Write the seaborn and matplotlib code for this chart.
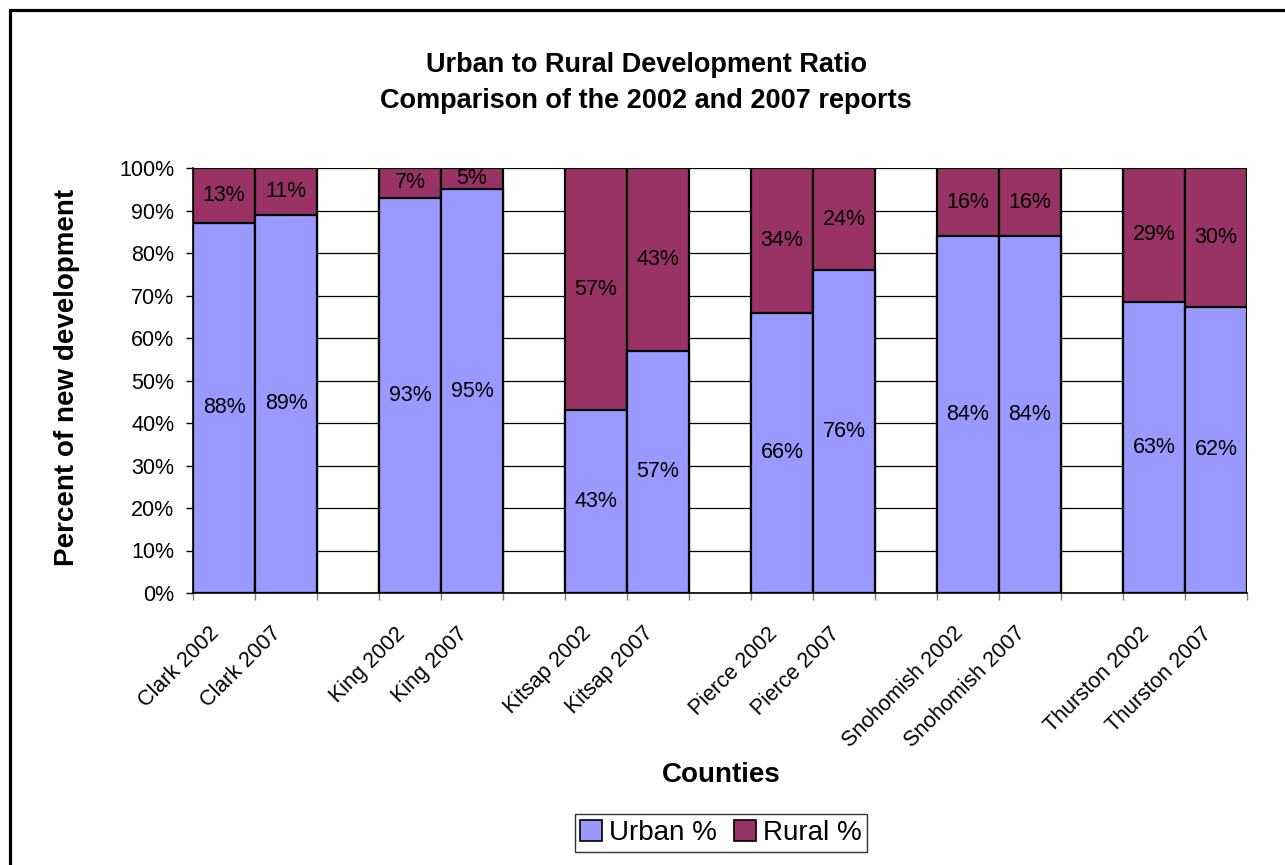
import numpy as np
import pandas as pd
import matplotlib
matplotlib.use("Agg")
import matplotlib.pyplot as plt
import matplotlib.transforms as mtransforms
import seaborn as sns
from matplotlib.lines import Line2D
from matplotlib.patches import Patch

# ---------------- data ----------------
counties = ["Clark", "King", "Kitsap", "Pierce", "Snohomish", "Thurston"]
years = ["2002", "2007"]
bar_labels = ["Clark 2002", "Clark 2007", "King 2002", "King 2007",
              "Kitsap 2002", "Kitsap 2007", "Pierce 2002", "Pierce 2007",
              "Snohomish 2002", "Snohomish 2007", "Thurston 2002", "Thurston 2007"]
urban_pct = [88, 89, 93, 95, 43, 57, 66, 76, 84, 84, 63, 62]
rural_pct = [13, 11, 7, 5, 57, 43, 34, 24, 16, 16, 29, 30]
y_ticks = [0, 10, 20, 30, 40, 50, 60, 70, 80, 90, 100]

title_lines = ["Urban to Rural Development Ratio",
               "Comparison of the 2002 and 2007 reports"]
x_title = "Counties"
y_title = "Percent of new development"

URBAN_COLOR = "#9999FF"
RURAL_COLOR = "#993366"

# ---------------- build table ----------------
n_years = len(years)
slot = n_years + 1  # one empty category between county groups
pos = [(i // n_years) * slot + (i % n_years) for i in range(len(bar_labels))]
urban = np.array(urban_pct, dtype=float)
rural = np.array(rural_pct, dtype=float)
urban_share = urban / (urban + rural) * 100.0
df = pd.DataFrame({
    "label": bar_labels,
    "pos": pos,
    "urban_share": urban_share,
    "total": 100.0,
})

# ---------------- style ----------------
sns.set_style("white")
plt.rcParams["font.family"] = ["Liberation Sans", "DejaVu Sans"]
plt.rcParams["text.color"] = "black"
plt.rcParams["axes.labelcolor"] = "black"
plt.rcParams["xtick.color"] = "black"
plt.rcParams["ytick.color"] = "black"

TICK_FS = 15.5

fig = plt.figure(figsize=(12.85, 8.65), dpi=100)
ax = fig.add_axes([193 / 1285, 1 - 593 / 865, (1247 - 193) / 1285, (593 - 168) / 865])

sns.barplot(data=df, x="pos", y="total", native_scale=True, orient="x",
            color=RURAL_COLOR, saturation=1, width=1, edgecolor="black",
            linewidth=1.6, errorbar=None, ax=ax, zorder=2)
sns.barplot(data=df, x="pos", y="urban_share", native_scale=True, orient="x",
            color=URBAN_COLOR, saturation=1, width=1, edgecolor="black",
            linewidth=1.6, errorbar=None, ax=ax, zorder=3)

n_slots = (len(counties) - 1) * slot + n_years
ax.set_xlim(-0.5, n_slots - 0.5)
ax.set_ylim(0, 100)

# grid
ax.set_axisbelow(True)
ax.yaxis.grid(True, color="black", linewidth=0.9)
ax.xaxis.grid(False)

# spines
for s in ["top", "right"]:
    ax.spines[s].set_visible(False)
for s in ["left", "bottom"]:
    ax.spines[s].set_color("black")
    ax.spines[s].set_linewidth(1.2)

# y ticks
ax.set_yticks(y_ticks)
ax.set_yticklabels([f"{v}%" for v in y_ticks], fontsize=TICK_FS, color="black")
ax.tick_params(axis="y", which="major", direction="out", length=5, width=1,
               color="black", left=True, pad=8.5, labelcolor="black")

# x ticks: labels at bar centres, tick marks at category boundaries
ax.set_xticks(pos)
ax.set_xticklabels(bar_labels, fontsize=TICK_FS, rotation=45, ha="right",
                   va="center", rotation_mode="anchor", color="black")
ax.set_xticks(np.arange(-0.5, n_slots, 1.0), minor=True)
ax.tick_params(axis="x", which="major", length=0, pad=27)
ax.tick_params(axis="x", which="minor", direction="out", length=5, width=1,
               color="gray", bottom=True)
shift = mtransforms.ScaledTranslation(-0.08, 0, fig.dpi_scale_trans)
for lab in ax.get_xticklabels():
    lab.set_transform(lab.get_transform() + shift)
ax.set_xlabel("")
ax.set_ylabel("")

# value labels
for p, u, r, us in zip(pos, urban_pct, rural_pct, urban_share):
    ax.text(p, us / 2, f"{u}%", ha="center", va="center", fontsize=TICK_FS,
            color="black", zorder=5)
    ax.text(p, us + (100 - us) / 2, f"{r}%", ha="center", va="center",
            fontsize=TICK_FS, color="black", zorder=5)

# titles
for line, base_px in zip(title_lines, [72, 108]):
    fig.text(0.503, 1 - base_px / 865, line, ha="center", va="baseline",
             fontsize=19.5, fontweight="bold", color="black")
fig.text(721 / 1285, 1 - 775 / 865, x_title, ha="center", va="center",
         fontsize=20, fontweight="bold", color="black")
fig.text(67 / 1285, 1 - 377 / 865, y_title, ha="center", va="center",
         fontsize=20, fontweight="bold", rotation=90, color="black")

# legend
handles = [Patch(facecolor=URBAN_COLOR, edgecolor="black", linewidth=1.2, label="Urban %"),
           Patch(facecolor=RURAL_COLOR, edgecolor="black", linewidth=1.2, label="Rural %")]
leg = fig.legend(handles=handles, loc="center", bbox_to_anchor=(721 / 1285, 1 - 833 / 865),
                 ncol=2, fontsize=20, frameon=True, fancybox=False,
                 handlelength=0.8, handleheight=0.8, handletextpad=0.25,
                 columnspacing=0.6, borderpad=0.2, borderaxespad=0,
                 labelcolor="black")
leg.get_frame().set_edgecolor("black")
leg.get_frame().set_linewidth(1.0)

# outer chart border (top and left edges visible)
fig.add_artist(Line2D([9.5 / 1285, 9.5 / 1285], [0, 1 - 10 / 865], transform=fig.transFigure,
                      color="black", linewidth=2.3))
fig.add_artist(Line2D([9.5 / 1285, 1], [1 - 10 / 865, 1 - 10 / 865], transform=fig.transFigure,
                      color="black", linewidth=2.3))

fig.savefig("out.png", dpi=100, facecolor="white")
